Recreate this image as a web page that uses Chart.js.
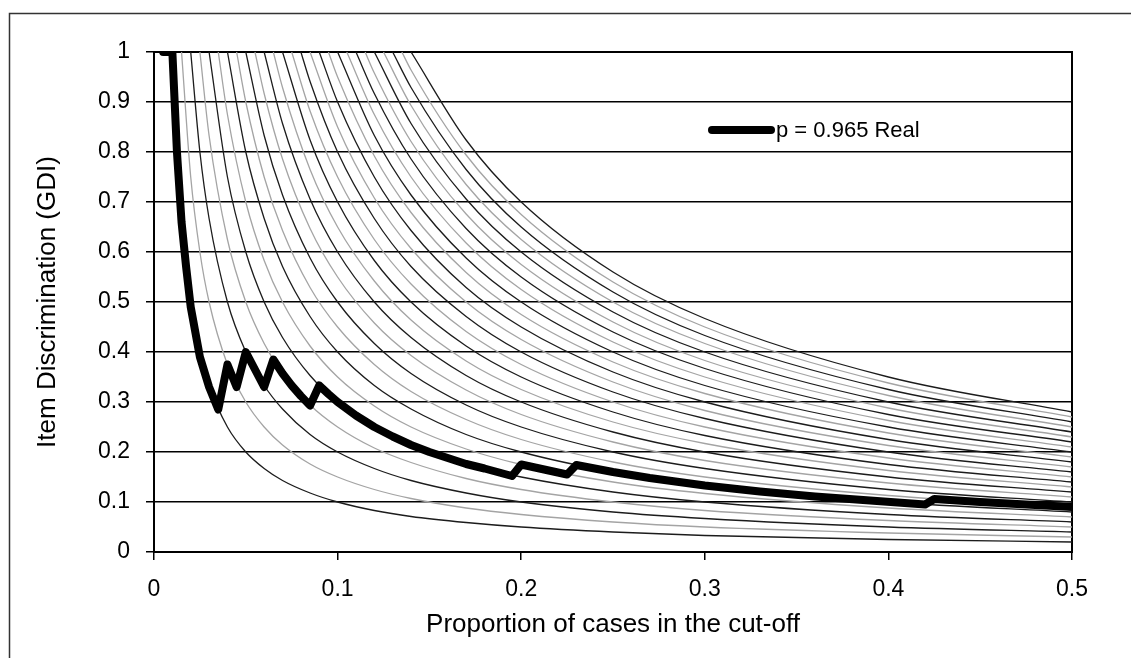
<!DOCTYPE html>
<html>
<head>
<meta charset="utf-8">
<script src="https://cdn.jsdelivr.net/npm/chart.js@4.4.1/dist/chart.umd.min.js"></script>
<style>
  html, body { margin: 0; padding: 0; background: #fff; }
  canvas { display: block; }
</style>
</head>
<body>
<canvas id="gdiChart" width="1131" height="658"></canvas>
<script>
// thick line: observed item discrimination
const realLabel = 'p = 0.965 Real';
const realX = [0.005, 0.01, 0.0125, 0.015, 0.0175, 0.02, 0.025, 0.03, 0.035, 0.04, 0.045, 0.05, 0.055, 0.06, 0.065,
  0.07, 0.075, 0.08, 0.085, 0.09, 0.095, 0.1, 0.11, 0.12, 0.13, 0.14, 0.15, 0.16, 0.17, 0.18, 0.195, 0.2,
  0.21, 0.22, 0.225, 0.23, 0.25, 0.27, 0.3, 0.33, 0.36, 0.39, 0.42, 0.425, 0.45, 0.475, 0.5];
const realY = [1, 1, 0.8, 0.66, 0.57, 0.49, 0.39, 0.33, 0.285, 0.375, 0.33, 0.40, 0.365, 0.33, 0.385,
  0.357, 0.333, 0.312, 0.293, 0.333, 0.316, 0.300, 0.273, 0.25, 0.231, 0.214, 0.2, 0.188, 0.176, 0.167, 0.152, 0.175,
  0.167, 0.159, 0.155, 0.174, 0.16, 0.148, 0.133, 0.121, 0.111, 0.103, 0.095, 0.106, 0.1, 0.095, 0.09];

// thin reference curves, read at these cut-off proportions
const curveX = [0.015, 0.02, 0.025, 0.03, 0.04, 0.05, 0.06, 0.07, 0.085, 0.1, 0.12, 0.14, 0.17, 0.2, 0.25, 0.3, 0.4, 0.5];
// where each curve comes down from the top of the plot (y = 1)
const curveTopX = [0.010, 0.015, 0.020, 0.025, 0.030, 0.035, 0.040, 0.045, 0.050, 0.055, 0.060, 0.065, 0.070, 0.075,
  0.080, 0.085, 0.090, 0.095, 0.100, 0.105, 0.110, 0.115, 0.120, 0.125, 0.130, 0.135, 0.140];
const _ = null;
const curveY = [
  [0.667, 0.5, 0.4, 0.333, 0.25, 0.2, 0.167, 0.143, 0.118, 0.1, 0.083, 0.071, 0.059, 0.05, 0.04, 0.033, 0.025, 0.02],
  [_, 0.75, 0.6, 0.5, 0.375, 0.3, 0.25, 0.214, 0.176, 0.15, 0.125, 0.107, 0.088, 0.075, 0.06, 0.05, 0.038, 0.03],
  [_, _, 0.8, 0.667, 0.5, 0.4, 0.333, 0.286, 0.235, 0.2, 0.167, 0.143, 0.118, 0.1, 0.08, 0.067, 0.05, 0.04],
  [_, _, _, 0.833, 0.625, 0.5, 0.417, 0.357, 0.294, 0.25, 0.208, 0.179, 0.147, 0.125, 0.1, 0.083, 0.063, 0.05],
  [_, _, _, _, 0.75, 0.6, 0.5, 0.429, 0.353, 0.3, 0.25, 0.214, 0.176, 0.15, 0.12, 0.1, 0.075, 0.06],
  [_, _, _, _, 0.875, 0.7, 0.583, 0.5, 0.412, 0.35, 0.292, 0.25, 0.206, 0.175, 0.14, 0.117, 0.088, 0.07],
  [_, _, _, _, _, 0.8, 0.667, 0.571, 0.471, 0.4, 0.333, 0.286, 0.235, 0.2, 0.16, 0.133, 0.1, 0.08],
  [_, _, _, _, _, 0.9, 0.75, 0.643, 0.529, 0.45, 0.375, 0.321, 0.265, 0.225, 0.18, 0.15, 0.113, 0.09],
  [_, _, _, _, _, _, 0.833, 0.714, 0.588, 0.5, 0.417, 0.357, 0.294, 0.25, 0.2, 0.167, 0.125, 0.1],
  [_, _, _, _, _, _, 0.917, 0.786, 0.647, 0.55, 0.458, 0.393, 0.324, 0.275, 0.22, 0.183, 0.138, 0.11],
  [_, _, _, _, _, _, _, 0.857, 0.706, 0.6, 0.5, 0.429, 0.353, 0.3, 0.24, 0.2, 0.15, 0.12],
  [_, _, _, _, _, _, _, 0.929, 0.765, 0.65, 0.542, 0.464, 0.382, 0.325, 0.26, 0.217, 0.163, 0.13],
  [_, _, _, _, _, _, _, _, 0.824, 0.7, 0.583, 0.5, 0.412, 0.35, 0.28, 0.233, 0.175, 0.14],
  [_, _, _, _, _, _, _, _, 0.882, 0.75, 0.625, 0.536, 0.441, 0.375, 0.3, 0.25, 0.188, 0.15],
  [_, _, _, _, _, _, _, _, 0.941, 0.8, 0.667, 0.571, 0.471, 0.4, 0.32, 0.267, 0.2, 0.16],
  [_, _, _, _, _, _, _, _, _, 0.85, 0.708, 0.607, 0.5, 0.425, 0.34, 0.283, 0.213, 0.17],
  [_, _, _, _, _, _, _, _, _, 0.9, 0.75, 0.643, 0.529, 0.45, 0.36, 0.3, 0.225, 0.18],
  [_, _, _, _, _, _, _, _, _, 0.95, 0.792, 0.679, 0.559, 0.475, 0.38, 0.317, 0.238, 0.19],
  [_, _, _, _, _, _, _, _, _, _, 0.833, 0.714, 0.588, 0.5, 0.4, 0.333, 0.25, 0.2],
  [_, _, _, _, _, _, _, _, _, _, 0.875, 0.75, 0.618, 0.525, 0.42, 0.35, 0.263, 0.21],
  [_, _, _, _, _, _, _, _, _, _, 0.917, 0.786, 0.647, 0.55, 0.44, 0.367, 0.275, 0.22],
  [_, _, _, _, _, _, _, _, _, _, 0.958, 0.821, 0.676, 0.575, 0.46, 0.383, 0.288, 0.23],
  [_, _, _, _, _, _, _, _, _, _, _, 0.857, 0.706, 0.6, 0.48, 0.4, 0.3, 0.24],
  [_, _, _, _, _, _, _, _, _, _, _, 0.893, 0.735, 0.625, 0.5, 0.417, 0.313, 0.25],
  [_, _, _, _, _, _, _, _, _, _, _, 0.929, 0.765, 0.65, 0.52, 0.433, 0.325, 0.26],
  [_, _, _, _, _, _, _, _, _, _, _, 0.964, 0.794, 0.675, 0.54, 0.45, 0.338, 0.27],
  [_, _, _, _, _, _, _, _, _, _, _, _, 0.824, 0.7, 0.56, 0.467, 0.35, 0.28]
];

const family = "'Liberation Sans', Arial, sans-serif";
const tickFont = { family: family, size: 23 };
const titleFont = { family: family, size: 26 };

const thinSets = curveY.map((row, i) => {
  const pts = [{ x: curveTopX[i], y: 1 }];
  row.forEach((y, j) => {
    if (y !== null) pts.push({ x: curveX[j], y: y });
  });
  return {
    data: pts,
    borderColor: i % 2 === 0 ? '#1c1c1c' : '#a4a4a4',
    borderWidth: 1.3,
    pointRadius: 0,
    cubicInterpolationMode: 'monotone',
    order: 1
  };
});

const realSet = {
  label: realLabel,
  data: realX.map((x, i) => ({ x: x, y: realY[i] })),
  borderColor: '#000',
  borderWidth: 8,
  borderCapStyle: 'round',
  borderJoinStyle: 'round',
  pointRadius: 0,
  tension: 0,
  order: 0
};

// plot box, outer frame and the legend inside the plot
const framePlugin = {
  id: 'frame',
  beforeDatasetsDraw(chart) {
    const a = chart.chartArea, c = chart.ctx;
    c.save();
    c.strokeStyle = '#000';
    c.lineWidth = 2;
    c.strokeRect(a.left, a.top, a.right - a.left, a.bottom - a.top);
    c.restore();
  },
  afterDraw(chart) {
    const c = chart.ctx;
    c.save();
    c.strokeStyle = '#333';
    c.lineWidth = 1.5;
    c.strokeRect(9.5, 13.5, 1300, 800);
    c.strokeStyle = '#000';
    c.lineWidth = 8;
    c.lineCap = 'round';
    c.beginPath();
    c.moveTo(712, 130);
    c.lineTo(771, 130);
    c.stroke();
    c.fillStyle = '#000';
    c.font = "22px " + family;
    c.textBaseline = 'middle';
    c.fillText(realSet.label, 776, 131);
    c.restore();
  }
};

const fmt = v => String(Math.round(v * 10) / 10);

new Chart(document.getElementById('gdiChart').getContext('2d'), {
  type: 'line',
  data: { datasets: [realSet, ...thinSets] },
  options: {
    responsive: false,
    animation: false,
    layout: { padding: { left: 0, right: 59, top: 52, bottom: 0 } },
    plugins: { legend: { display: false }, tooltip: { enabled: false } },
    scales: {
      x: {
        type: 'linear', min: 0, max: 0.5,
        ticks: { stepSize: 0.1, color: '#000', font: tickFont, padding: 16, callback: fmt },
        grid: { drawOnChartArea: false, drawTicks: true, tickLength: 8, color: '#000', lineWidth: 1.5 },
        border: { color: '#000', width: 2 },
        title: { display: true, text: 'Proportion of cases in the cut-off', color: '#000', font: titleFont, padding: { top: 0, bottom: 18 } },
        afterFit: s => { s.height = 106; }
      },
      y: {
        min: 0, max: 1,
        ticks: { stepSize: 0.1, color: '#000', font: tickFont, padding: 16, callback: fmt },
        grid: { color: '#000', lineWidth: 1.5, tickLength: 8 },
        border: { color: '#000', width: 2 },
        title: { display: true, text: 'Item Discrimination (GDI)', color: '#000', font: titleFont, padding: { top: 32, bottom: 0 } },
        afterFit: s => { s.width = 154; }
      }
    }
  },
  plugins: [framePlugin]
});
</script>
</body>
</html>
